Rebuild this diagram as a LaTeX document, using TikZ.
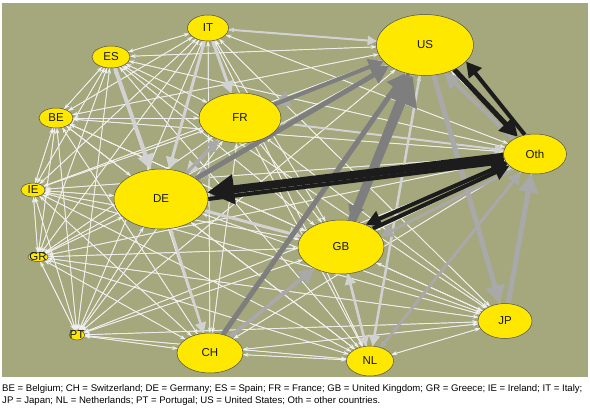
\documentclass[tikz,border=0pt]{standalone}
\usepackage{fontspec}
\setmainfont{Liberation Sans}
\usetikzlibrary{shapes.geometric, arrows.meta}
\definecolor{myolive}{RGB}{164,168,124}
\definecolor{myyellow}{HTML}{FFE800}
\definecolor{mydark}{HTML}{1C1C1C}
\definecolor{mygray}{HTML}{7E7E7E}
\definecolor{mylight}{HTML}{A9A9A9}
\definecolor{mypale}{HTML}{D2D2D2}
\pgfdeclarelayer{edges}
\pgfsetlayers{edges,main}

\begin{document}
\begin{tikzpicture}[x=1pt, y=-1pt,
    ctry/.style={ellipse, draw=black!70, line width=0.5pt, fill=myyellow, inner sep=0pt},
    every label/.style={font=\fontsize{11.5}{12}\selectfont, text=black!90, inner sep=0pt},
    flow/.style={-{Stealth[length=5.5pt,width=4pt]}, draw=white!94!black, line width=0.7pt},
    heavy/.style={-{Triangle[length=3pt 3,width=3pt 3.2]}, line width=#1}]
    \useasboundingbox (0,0) rectangle (590,410);

    \node[ctry, minimum width=41pt, minimum height=26pt, label=center:IT] (IT) at (208,28) {};
    \node[ctry, minimum width=38pt, minimum height=22pt, label=center:ES] (ES) at (111,57) {};
    \node[ctry, minimum width=34pt, minimum height=20pt, label=center:BE] (BE) at (56,118) {};
    \node[ctry, minimum width=24pt, minimum height=14pt, label=center:IE] (IE) at (33,190) {};
    \node[ctry, minimum width=20pt, minimum height=9pt, label=center:GR] (GR) at (38,257) {};
    \node[ctry, minimum width=15pt, minimum height=10pt, label=center:PT] (PT) at (77,335) {};
    \node[ctry, minimum width=66pt, minimum height=40pt, label=center:CH] (CH) at (210,353) {};
    \node[ctry, minimum width=47pt, minimum height=30pt, label=center:NL] (NL) at (370,361) {};
    \node[ctry, minimum width=54pt, minimum height=35pt, label=center:JP] (JP) at (505,321) {};
    \node[ctry, minimum width=86pt, minimum height=54pt, label=center:GB] (GB) at (341,247) {};
    \node[ctry, minimum width=94pt, minimum height=60pt, label=center:DE] (DE) at (161,199) {};
    \node[ctry, minimum width=82pt, minimum height=50pt, label=center:FR] (FR) at (240,118) {};
    \node[ctry, minimum width=97pt, minimum height=61pt, label=center:US] (US) at (425,45) {};
    \node[ctry, minimum width=63pt, minimum height=40pt, label=center:Oth] (Oth) at (535,154) {};

    \node[anchor=north west, align=left, inner sep=0pt, font=\fontsize{9.6}{12.5}\selectfont] (key) at (2,384)
        {BE = Belgium; CH = Switzerland; DE = Germany; ES = Spain; FR = France; GB = United Kingdom; GR = Greece; IE = Ireland; IT = Italy;\\
         JP = Japan; NL = Netherlands; PT = Portugal; US = United States; Oth = other countries.};

    \begin{pgfonlayer}{edges}
    \fill[myolive] (2,3) rectangle (588,377);
    \foreach \a in {IT,ES,BE,IE,GR,PT,CH,NL,JP,GB,DE,FR,US,Oth}
        \foreach \b in {IT,ES,BE,IE,GR,PT,CH,NL,JP,GB,DE,FR,US,Oth}
            {\ifx\a\b\else\draw[flow] (\a) -- (\b);\fi}

    \draw[heavy=4pt, mypale] (ES) -- (DE);
    \draw[heavy=3pt, mypale] (IT) -- (DE);
    \draw[heavy=3pt, mypale] (IT) -- (FR);
    \draw[heavy=3pt, mypale] (FR) -- (DE);
    \draw[heavy=3pt, mypale] (DE) -- (GB);
    \draw[heavy=2.5pt, mypale] (DE) -- (CH);
    \draw[heavy=2.5pt, mypale] (NL) -- (GB);
    \draw[heavy=2.5pt, mypale] (US) -- (NL);
    \draw[heavy=2pt, mypale] (GB) -- (NL);
    \draw[heavy=2pt, mypale] (FR) -- (Oth);
    \draw[heavy=2pt, mypale] (IT) -- (US);

    \draw[heavy=5pt, mylight] (US) -- (JP);
    \draw[heavy=5pt, mylight] (JP) -- (Oth);
    \draw[heavy=4pt, mylight] (Oth.145) -- (US.-55);
    \draw[heavy=4pt, mylight] (US) -- (FR);
    \draw[heavy=4pt, mylight] (CH) -- (GB);
    \draw[heavy=3pt, mylight] (Oth.215) -- (GB.15);
    \draw[heavy=3pt, mylight] (NL) -- (Oth);
    \draw[heavy=3pt, mylight] (US) -- (DE);
    \draw[heavy=3pt, mylight] (DE) -- (FR);

    \draw[heavy=9pt, mygray] (GB) -- (US);
    \draw[heavy=5pt, mygray] (DE) -- (US);
    \draw[heavy=5pt, mygray] (CH) -- (US);
    \draw[heavy=4pt, mygray] (US.-120) -- (GB.70);
    \draw[heavy=4pt, mygray] (FR) -- (US);

    \draw[heavy=8pt, mydark] (Oth.185) -- (DE.8);
    \draw[heavy=4pt, mydark] (DE.0) -- (Oth.195);
    \draw[heavy=5pt, mydark] (US.-40) -- (Oth.135);
    \draw[heavy=4pt, mydark] (Oth.118) -- (US.-22);
    \draw[heavy=4pt, mydark] (GB.30) -- (Oth.205);
    \draw[heavy=4pt, mydark] (Oth.198) -- (GB.42);
    \end{pgfonlayer}
\end{tikzpicture}
\end{document}
